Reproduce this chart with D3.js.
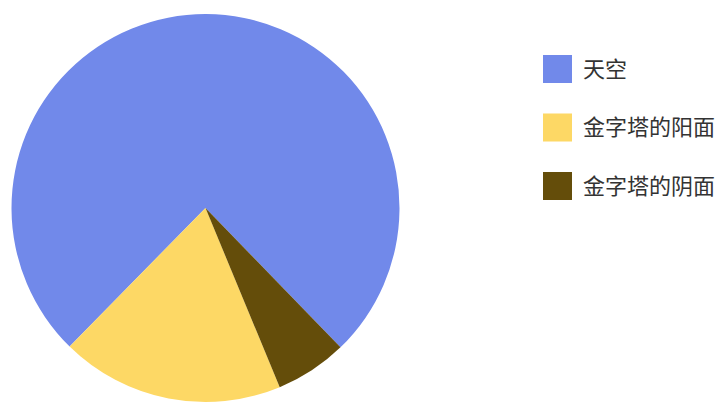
<!DOCTYPE html>
<html>
<head>
<meta charset="utf-8">
<script src="https://cdn.jsdelivr.net/npm/d3@7"></script>
<style>
  html, body { margin: 0; padding: 0; background: #fff; }
  text { font-family: "Noto Sans CJK SC", sans-serif; }
</style>
</head>
<body>
<div id="chart"></div>
<script>
// 数据
var categories = ["天空", "金字塔的阳面", "金字塔的阴面"];
var values = [75.4, 18.6, 6.0];
var colors = ["#7189ea", "#fdd865", "#644d0a"];

var width = 720, height = 406;
var cx = 205.5, cy = 208, radius = 194;

var svg = d3.select("#chart").append("svg")
    .attr("width", width)
    .attr("height", height);

var color = d3.scaleOrdinal().domain(categories).range(colors);

// 逆时针绘制, 天空从右下开始
var start = 135.9 * Math.PI / 180;
var pie = d3.pie()
    .sort(null)
    .value(function(d){ return d.v; })
    .startAngle(start)
    .endAngle(start - 2 * Math.PI);

var arc = d3.arc().innerRadius(0).outerRadius(radius);

var rows = categories.map(function(c, i){ return {name: c, v: values[i]}; });

var g = svg.append("g").attr("transform", "translate(" + cx + "," + cy + ")");
g.selectAll("path")
    .data(pie(rows))
    .enter().append("path")
    .attr("d", arc)
    .attr("fill", function(d){ return color(d.data.name); });

// 图例
var legend = svg.append("g").attr("transform", "translate(543,55)");
var item = legend.selectAll("g")
    .data(categories)
    .enter().append("g")
    .attr("transform", function(d, i){ return "translate(0," + (i * 58.5) + ")"; });
item.append("rect")
    .attr("width", 29)
    .attr("height", 28)
    .attr("fill", function(d){ return color(d); });
item.append("text")
    .attr("x", 40)
    .attr("y", 14)
    .attr("dy", "0.36em")
    .attr("font-size", 22)
    .attr("fill", "#333")
    .text(function(d){ return d; });
</script>
</body>
</html>
